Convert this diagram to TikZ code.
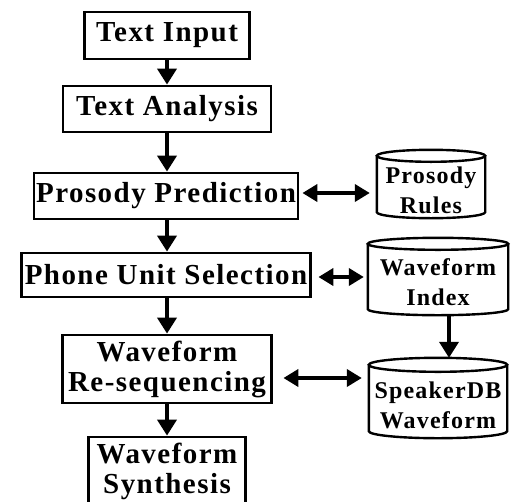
\documentclass[tikz,border=0pt]{standalone}
\usepackage{fontspec}
\usetikzlibrary{arrows.meta,calc}
\newfontfamily\flowfont{Liberation Serif}[LetterSpace=5]

\begin{document}
\begin{tikzpicture}[x=1pt,y=-1pt,
    stage/.style={draw,line width=2.8pt,inner sep=0pt,align=center,
      font=\flowfont\bfseries\fontsize{29}{30}\selectfont},
    store/.style={inner sep=0pt,align=center,
      font=\flowfont\bfseries\fontsize{24}{30}\selectfont},
    flow/.style={line width=3.8pt,-{Triangle[length=16pt,width=19pt]}},
    link/.style={line width=3.8pt,{Triangle[length=15pt,width=17pt]}-{Triangle[length=15pt,width=17pt]}}]
  \useasboundingbox (0,0) rectangle (516,501);
  \clip (0,0) rectangle (516,501);

  \node[stage,minimum width=165pt,minimum height=47pt] (input) at (167,35.5) {Text Input};
  \node[stage,minimum width=208pt,minimum height=46pt] (analysis) at (167,109) {Text Analysis};
  \node[stage,minimum width=264pt,minimum height=46pt] (prosody) at (166,196) {Prosody Prediction};
  \node[stage,minimum width=289pt,minimum height=44pt] (units) at (166,275) {Phone Unit Selection};
  \node[stage,minimum width=209pt,minimum height=68pt] (reseq) at (167,369) {Waveform\\Re-sequencing};
  \node[stage,minimum width=157pt,minimum height=69pt] (synth) at (167,471.5) {Waveform\\Synthesis};

  \node[store,minimum width=108pt,minimum height=56pt] (rules) at (431,190) {Prosody\\Rules};
  \node[store,minimum width=140pt,minimum height=65pt] (index) at (438,282.5) {Waveform\\Index};
  \node[store,minimum width=138pt,minimum height=66pt] (spkdb) at (438,405) {SpeakerDB\\Waveform};

  % database drums round the store nodes
  \foreach \db/\ry in {rules/6,index/6,spkdb/7}{
    \draw[line width=2.4pt]
      let \p1=(\db.north west), \p2=(\db.south east) in
      (\x1,{\y1+\ry pt}) -- (\x1,{\y2+\ry pt})
        arc[start angle=180,end angle=360,x radius={(\x2-\x1)/2},y radius=\ry pt]
        -- (\x2,{\y1+\ry pt})
      ({(\x1+\x2)/2},{\y1+\ry pt}) ellipse[x radius={(\x2-\x1)/2},y radius=\ry pt];
  }

  \foreach \a/\b in {input/analysis,analysis/prosody,prosody/units,units/reseq,reseq/synth}
    \draw[flow] (\a.south -| input) -- (\b.north -| input);
  \draw[flow] ([xshift=11pt]index.south) -- ([xshift=11pt,yshift=14pt]spkdb.north);

  \coordinate (pp-r) at ([yshift=3pt]prosody.east);
  \coordinate (pu-r) at ([yshift=-2pt]units.east);
  \coordinate (rs-r) at ([yshift=-9pt]reseq.east);
  \draw[link,shorten <=3pt,shorten >=7pt] (pp-r) -- (pp-r -| rules.west);
  \draw[link,shorten <=6.5pt,shorten >=4pt] (pu-r) -- (pu-r -| index.west);
  \draw[link,shorten <=10.5pt,shorten >=7pt] (rs-r) -- (rs-r -| spkdb.west);
\end{tikzpicture}
\end{document}
